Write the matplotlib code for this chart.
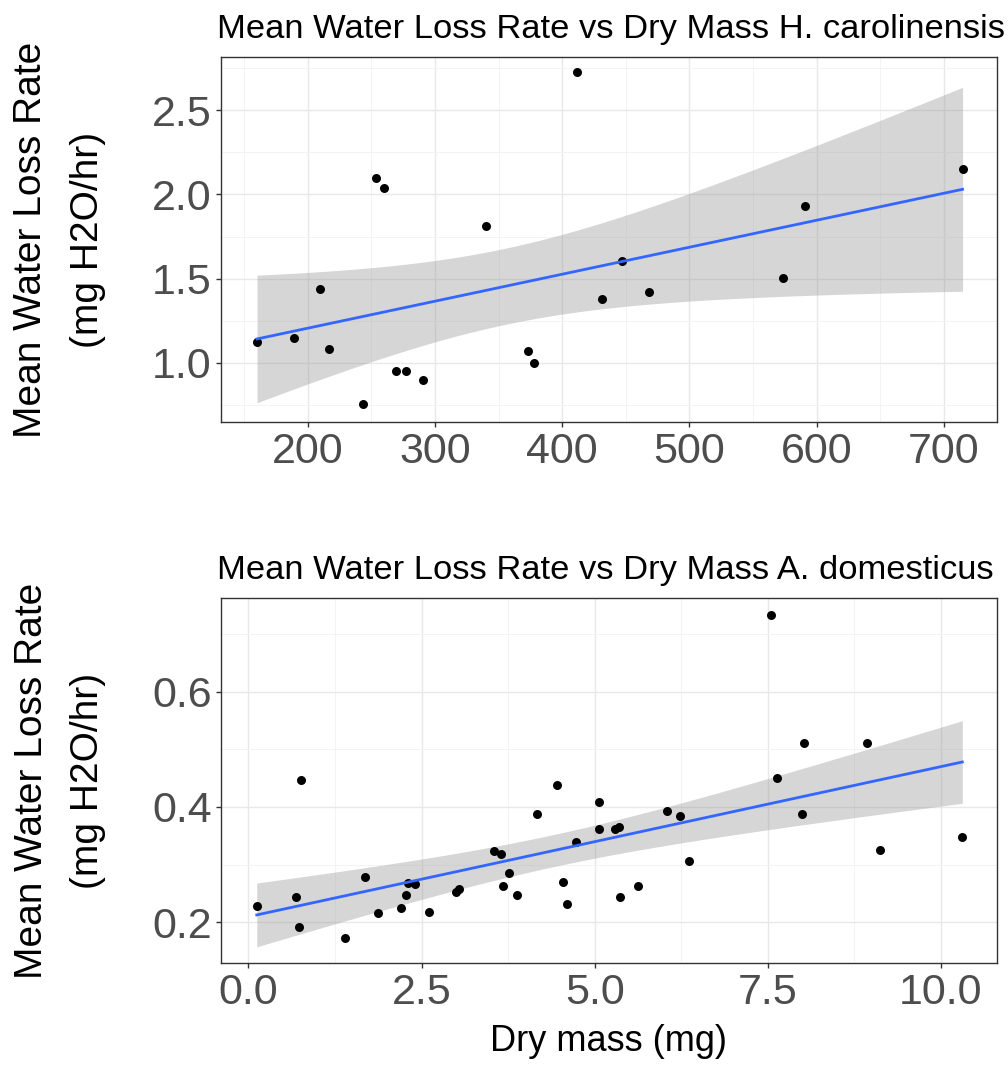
import numpy as np
import matplotlib
matplotlib.use('Agg')
import matplotlib.pyplot as plt
from matplotlib.ticker import MultipleLocator

plt.rcParams['font.family'] = ['Liberation Sans', 'DejaVu Sans']

# H. carolinensis
mass_h = [160.1, 189.2, 209.4, 216.8, 243.5, 254.0, 259.7, 269.7, 277.0, 290.2,
          339.9, 373.2, 377.7, 412.0, 430.9, 446.9, 468.3, 573.7, 590.7, 714.7]
loss_h = [1.126, 1.150, 1.440, 1.082, 0.756, 2.095, 2.039, 0.952, 0.952, 0.899,
          1.812, 1.072, 0.998, 2.724, 1.377, 1.604, 1.419, 1.505, 1.932, 2.150]

# A. domesticus
mass_a = [0.12, 0.68, 0.73, 0.76, 1.40, 1.69, 1.87, 2.21, 2.27, 2.30,
          2.40, 2.61, 3.00, 3.04, 3.55, 3.65, 3.67, 3.77, 3.88, 4.17,
          4.46, 4.55, 4.60, 4.73, 5.07, 5.07, 5.29, 5.35, 5.36, 5.63,
          6.05, 6.24, 6.37, 7.55, 7.64, 7.99, 8.03, 8.94, 9.12, 10.31]
loss_a = [0.228, 0.244, 0.192, 0.447, 0.173, 0.279, 0.215, 0.224, 0.247, 0.268,
          0.266, 0.218, 0.253, 0.257, 0.323, 0.318, 0.263, 0.285, 0.247, 0.387,
          0.438, 0.269, 0.231, 0.340, 0.409, 0.361, 0.361, 0.365, 0.243, 0.263,
          0.393, 0.384, 0.307, 0.734, 0.451, 0.387, 0.511, 0.511, 0.326, 0.348]

titles = ['Mean Water Loss Rate vs Dry Mass H. carolinensis',
          'Mean Water Loss Rate vs Dry Mass A. domesticus']
ylab = 'Mean Water Loss Rate\n(mg H2O/hr)'


def lm_band(x, y):
    # linear fit with 95% confidence band, like geom_smooth(method='lm')
    x = np.array(x)
    y = np.array(y)
    n = len(x)
    b, a = np.polyfit(x, y, 1)
    res = y - (a + b * x)
    s = np.sqrt(np.sum(res ** 2) / (n - 2))
    df = n - 2
    z = 1.959964
    t = z + (z ** 3 + z) / (4 * df) + (5 * z ** 5 + 16 * z ** 3 + 3 * z) / (96 * df ** 2)
    xs = np.linspace(x.min(), x.max(), 80)
    fit = a + b * xs
    se = s * np.sqrt(1 / n + (xs - x.mean()) ** 2 / np.sum((x - x.mean()) ** 2))
    return xs, fit, fit - t * se, fit + t * se


def style(ax):
    ax.set_facecolor('white')
    for sp in ax.spines.values():
        sp.set_color('#333333')
        sp.set_linewidth(1.0)
    ax.grid(which='major', color='#E8E8E8', linewidth=1.0)
    ax.grid(which='minor', color='#F3F3F3', linewidth=0.7)
    ax.set_axisbelow(True)
    ax.tick_params(which='major', length=3.5, width=1, color='#333333',
                   labelsize=31, labelcolor='#4D4D4D', pad=4)
    ax.tick_params(axis='y', which='major', pad=3)
    ax.tick_params(which='minor', length=0)


fig = plt.figure(figsize=(10.08, 10.67), dpi=100)
ax1 = fig.add_axes([0.219, 0.6045, 0.770, 0.342])
ax2 = fig.add_axes([0.219, 0.0975, 0.770, 0.342])

for ax, x, y, title in [(ax1, mass_h, loss_h, titles[0]), (ax2, mass_a, loss_a, titles[1])]:
    style(ax)
    xs, fit, lo, hi = lm_band(x, y)
    ax.fill_between(xs, lo, hi, color='#999999', alpha=0.4, linewidth=0, zorder=2)
    ax.scatter(x, y, s=42, color='black', zorder=3, linewidths=0)
    ax.plot(xs, fit, color='#3366FF', linewidth=2.0, zorder=4)
    ax.set_title(title, loc='left', fontsize=24.8, pad=14, x=-0.005)
    ax.set_ylabel(ylab, fontsize=28, linespacing=1.74, labelpad=33)

ax1.set_xlim(131.6, 741.7)
ax1.set_ylim(0.65, 2.814)
ax1.xaxis.set_major_locator(MultipleLocator(100))
ax1.xaxis.set_minor_locator(MultipleLocator(50))
ax1.yaxis.set_major_locator(MultipleLocator(0.5))
ax1.yaxis.set_minor_locator(MultipleLocator(0.25))
ax1.yaxis.set_major_formatter('{x:.1f}')

ax2.set_xlim(-0.40, 10.81)
ax2.set_ylim(0.129, 0.763)
ax2.xaxis.set_major_locator(MultipleLocator(2.5))
ax2.xaxis.set_minor_locator(MultipleLocator(1.25))
ax2.yaxis.set_major_locator(MultipleLocator(0.2))
ax2.yaxis.set_minor_locator(MultipleLocator(0.1))
ax2.xaxis.set_major_formatter('{x:.1f}')
ax2.yaxis.set_major_formatter('{x:.1f}')
ax2.set_xlabel('Dry mass (mg)', fontsize=26, labelpad=8)

fig.savefig('out.png', dpi=100, facecolor='white')
